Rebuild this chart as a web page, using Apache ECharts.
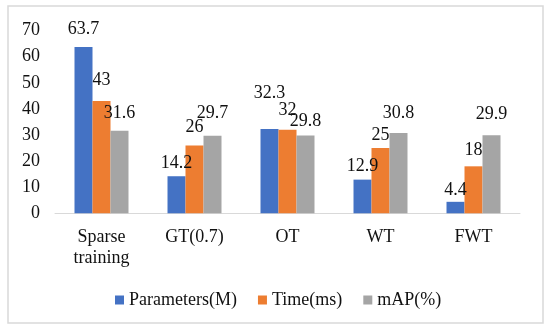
<!DOCTYPE html>
<html><head><meta charset="utf-8">
<script src="https://cdn.jsdelivr.net/npm/echarts@6/dist/echarts.min.js"></script>
<style>html,body{margin:0;padding:0;background:#fff}#c{width:550px;height:332px}</style>
</head><body><div id="c"></div>
<script>
const categories = ['Sparse\ntraining', 'GT(0.7)', 'OT', 'WT', 'FWT'];
const parameters = [63.7, 14.2, 32.3, 12.9, 4.4];
const timeMs = [43, 26, 32, 25, 18];
const mAP = [31.6, 29.7, 29.8, 30.8, 29.9];
const yTicks = [0, 10, 20, 30, 40, 50, 60, 70];

// label distances (style only), mimicking the source's overlap avoidance
const labelGap = {
  'Parameters(M)': [9, 4, 27, 4, 3],
  'Time(ms)': [12, 9, 11, 4, 7],
  'mAP(%)': [9, 14, 5, 11, 12]
};

const font = '"Liberation Serif", "Times New Roman", serif';
const chart = echarts.init(document.getElementById('c'), null, {renderer: 'canvas'});
const mk = (name, values, color) => ({
  name, type: 'bar', barWidth: 18, barGap: '0%',
  data: values.map((v, i) => ({value: v, label: {distance: labelGap[name][i]}})),
  itemStyle: {color},
  label: {show: true, position: 'top', color: '#111', fontFamily: font, fontSize: 18}
});
chart.setOption({
  animation: false,
  textStyle: {fontFamily: font},
  graphic: [{type: 'rect', shape: {x: 8, y: 6, width: 535, height: 317}, style: {fill: 'none', stroke: '#d9d9d9', lineWidth: 1.5}, silent: true}],
  grid: {left: 55, top: 30.6, width: 465, height: 182.7},
  legend: {
    left: 110, top: 286, itemWidth: 9, itemHeight: 9, itemGap: 21, icon: 'rect',
    textStyle: {fontFamily: font, fontSize: 18, color: '#111'},
    data: ['Parameters(M)', 'Time(ms)', 'mAP(%)']
  },
  xAxis: {
    type: 'category', data: categories,
    axisLine: {lineStyle: {color: '#d9d9d9', width: 1}},
    axisTick: {show: false},
    axisLabel: {color: '#111', fontFamily: font, fontSize: 18, lineHeight: 21, margin: 13}
  },
  yAxis: {
    type: 'value', min: yTicks[0], max: yTicks[yTicks.length - 1], interval: 10,
    splitLine: {show: false}, axisLine: {show: false}, axisTick: {show: false},
    axisLabel: {color: '#111', fontFamily: font, fontSize: 18, margin: 15}
  },
  series: [
    mk('Parameters(M)', parameters, '#4472C4'),
    mk('Time(ms)', timeMs, '#ED7D31'),
    mk('mAP(%)', mAP, '#A5A5A5')
  ]
});
</script></body></html>
